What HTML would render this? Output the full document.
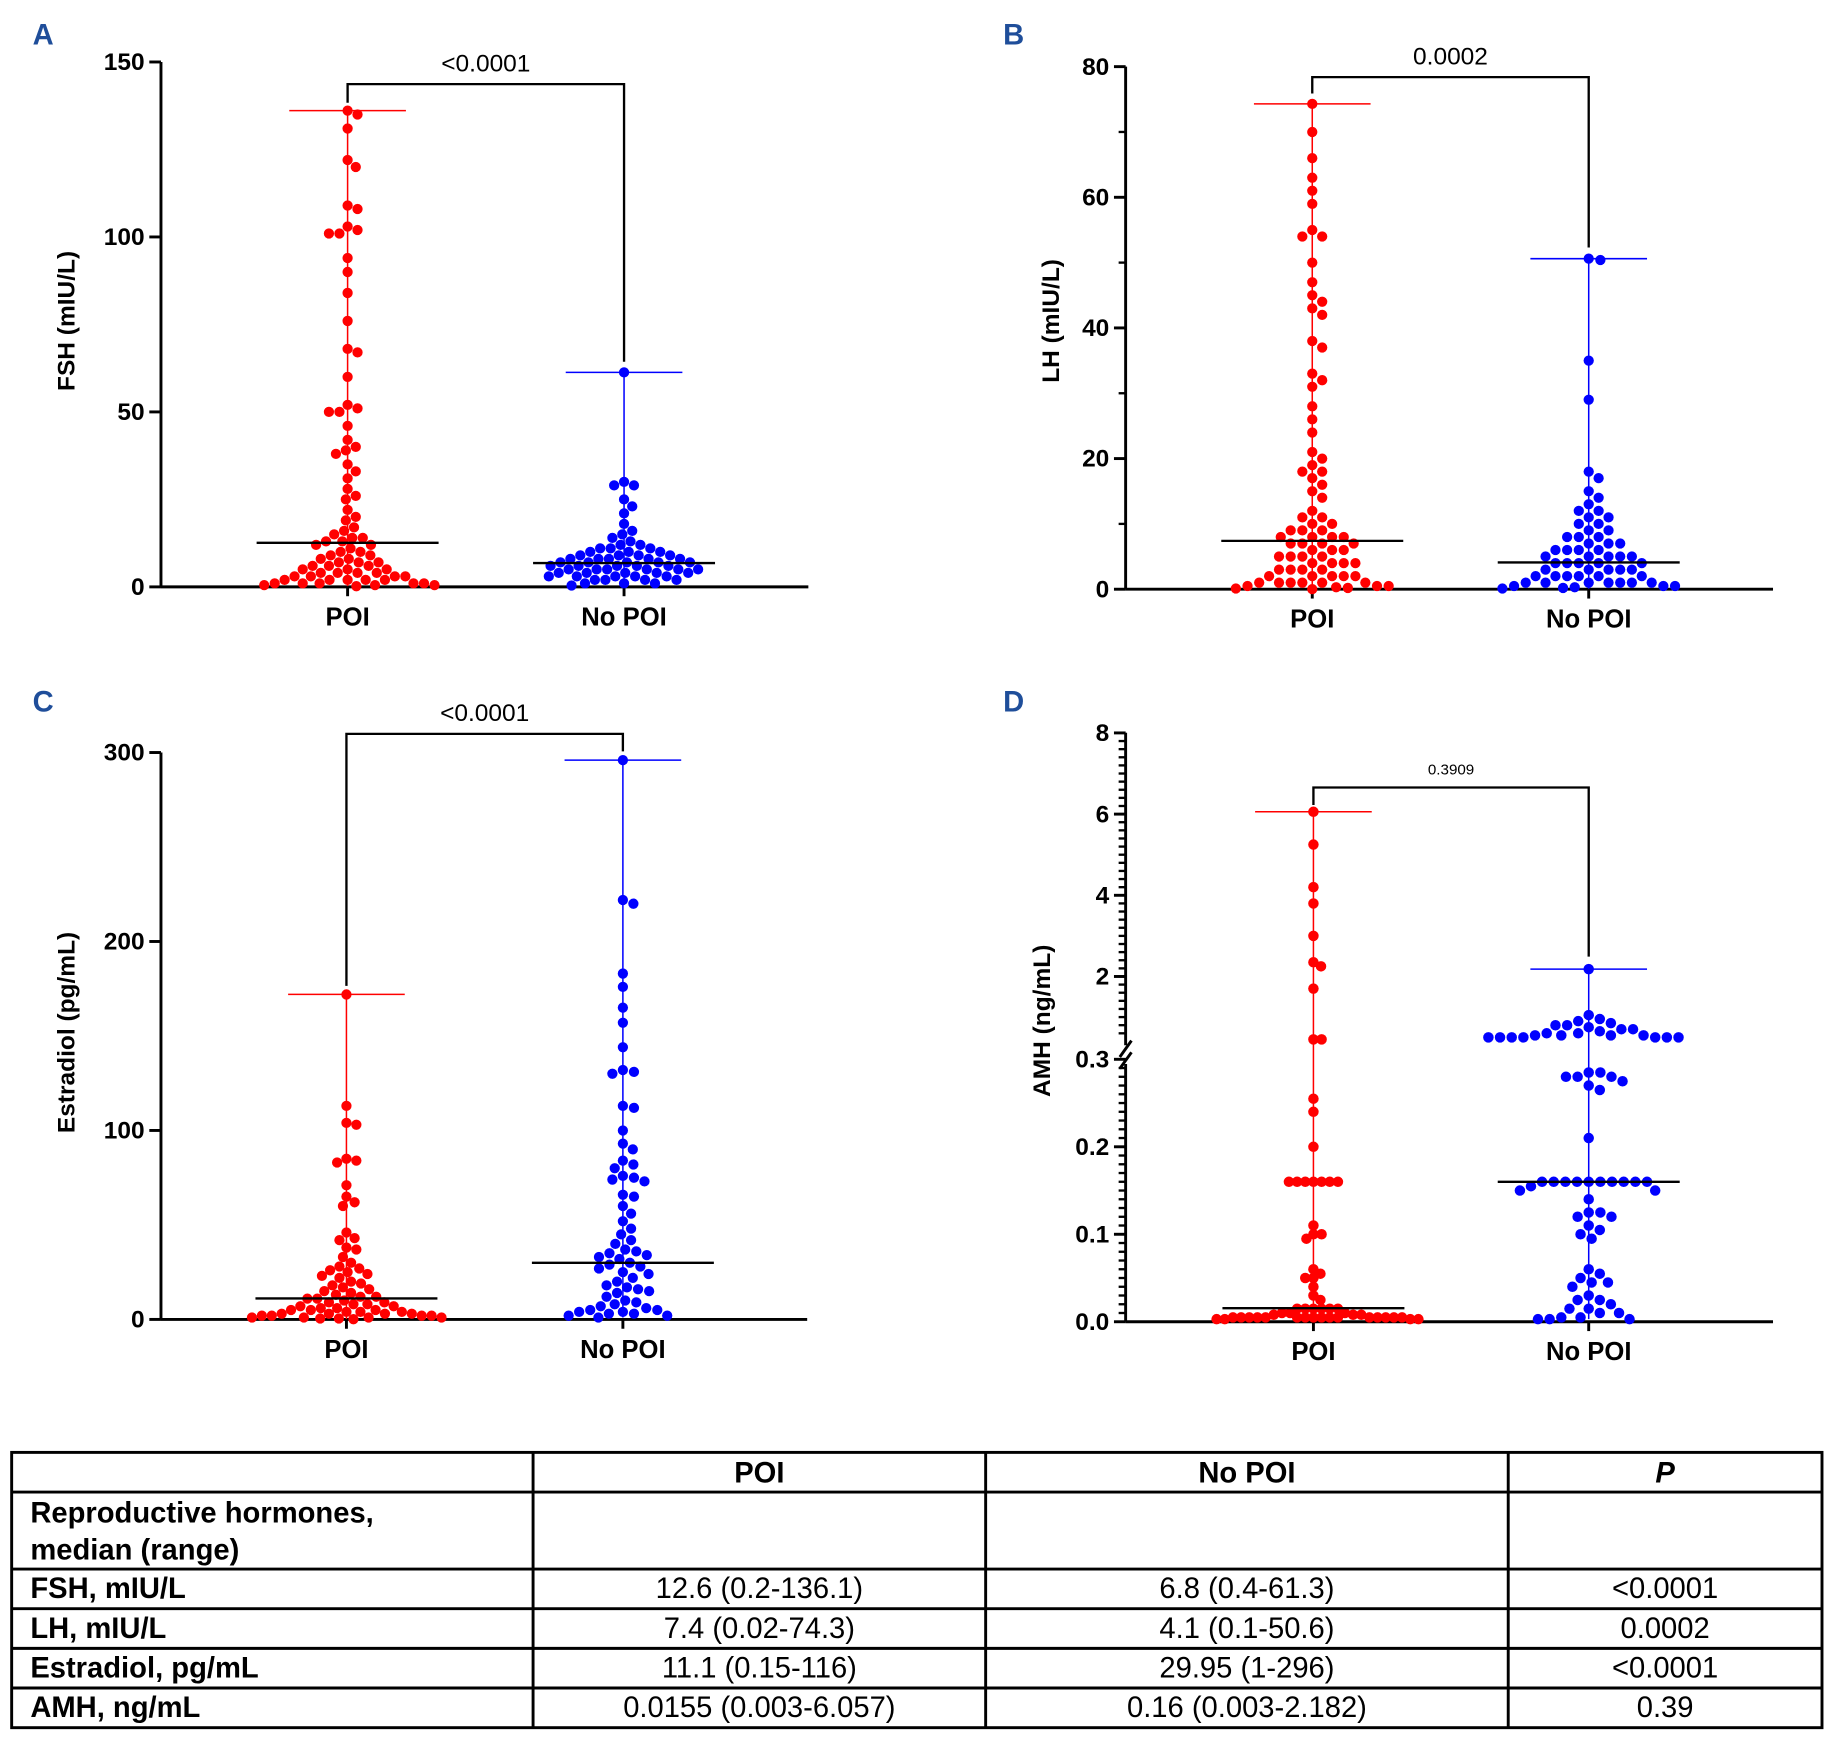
<!DOCTYPE html>
<html><head><meta charset="utf-8"><style>
html,body{margin:0;padding:0;background:#fff}
svg{display:block}
text{font-family:"Liberation Sans",Arial,sans-serif}
</style></head><body>
<svg id="fig" xmlns="http://www.w3.org/2000/svg" width="1829" height="1743" viewBox="0 0 1568 1494">
<g id="charts"></g>
<g id="table"></g>
</svg>
<script>
// ---- data ----
const categories = ["POI", "No POI"];
const fshPOI = [136.1,135,131,122,120,109,108,103,102,101,101,94,90,84,76,68,67,60,52,51,50,50,46,42,40,39,38,35,33,31,28,26,25,22,20,19,17,16,15,14,14,13,13,12,12,11,10,10,9,9,8,8,7,7,7,6,6,6,5,5,5,4,4,4,4,3,3,3,3,2,2,2,2,2,1,1,1,1,1,0.5,0.5,0.5,0.2];
const fshNoPOI = [61.3,30,29,29,25,23,21,18,16,15,14,13,12,12,11,11,11,10,10,10,9,9,9,9,8,8,8,8,8,7,7,7,7,7,6,6,6,6,6,5,5,5,5,5,5,4,4,4,4,4,3,3,3,3,3,2,2,2,2,1,1,1,0.4];
const lhPOI = [74.3,70,66,63,61,59,55,54,54,50,47,45,44,43,42,38,37,33,32,31,28,26,24,21,20,19,18,18,17,16,15,14,12,11,11,10,10,9,9,9,8,8,8,8,7,7,7,7,6,6,6,5,5,5,5,4,4,4,4,3,3,3,3,2,2,2,2,2,1,1,1,1,1,1,0.5,0.5,0.5,0.3,0.2,0.1,0.02];
const lhNoPOI = [50.6,50.4,35,29,18,17,15,14,13,12,12,11,11,10,10,9,9,8,8,8,7,7,7,6,6,6,6,5,5,5,5,5,4,4,4,4,4,3,3,3,3,3,2,2,2,2,2,2,1,1,1,1,1,1,1,0.5,0.5,0.5,0.3,0.2,0.1];
const e2POI = [172,113,104,103,85,84,83,71,65,62,60,46,43,42,38,37,33,30,28,27,26,25,24,23,22,20,19,18,17,16,15,14,13,12,12,11,11,10,9,9,8,8,7,7,6,6,5,5,5,4,4,4,3,3,3,3,2,2,2,2,1,1,1,1,0.5,0.5,0.15];
const e2NoPOI = [296,222,220,183,176,165,157,144,132,131,130,113,112,100,93,90,84,82,80,76,75,74,73,66,65,60,56,52,48,45,42,40,37,36,35,34,33,32,30,29,28,27,25,24,22,20,18,17,16,15,14,12,10,9,8,7,6,5,5,4,4,3,3,2,2,1];
const amhPOI = [6.057,5.25,4.2,3.8,3.0,2.35,2.25,1.7,0.45,0.45,0.255,0.24,0.2,0.16,0.16,0.16,0.16,0.16,0.16,0.16,0.11,0.1,0.1,0.095,0.06,0.055,0.05,0.05,0.04,0.03,0.025,0.015,0.015,0.015,0.015,0.015,0.015,0.01,0.01,0.01,0.008,0.008,0.008,0.005,0.005,0.005,0.005,0.005,0.005,0.005,0.005,0.005,0.005,0.005,0.005,0.005,0.005,0.005,0.005,0.003,0.003,0.003,0.003];
const amhNoPOI = [2.182,1.05,0.95,0.9,0.85,0.8,0.8,0.75,0.7,0.7,0.65,0.6,0.6,0.55,0.55,0.55,0.55,0.5,0.5,0.5,0.5,0.5,0.5,0.5,0.285,0.285,0.28,0.28,0.28,0.275,0.27,0.265,0.21,0.16,0.16,0.16,0.16,0.16,0.16,0.16,0.16,0.16,0.16,0.155,0.15,0.15,0.14,0.125,0.125,0.12,0.12,0.11,0.105,0.1,0.095,0.06,0.055,0.05,0.045,0.045,0.04,0.03,0.025,0.025,0.02,0.015,0.015,0.01,0.01,0.005,0.005,0.003,0.003,0.003];
const medians = {A:[12.6,6.8], B:[7.4,4.1], C:[11.1,29.95], D:[0.0155,0.16]};
const pValues = ["<0.0001","0.0002","<0.0001","0.3909"];
const tableHeader = ["", "POI", "No POI", "P"];
const tableRows = [
 ["FSH, mIU/L","12.6 (0.2-136.1)","6.8 (0.4-61.3)","<0.0001"],
 ["LH, mIU/L","7.4 (0.02-74.3)","4.1 (0.1-50.6)","0.0002"],
 ["Estradiol, pg/mL","11.1 (0.15-116)","29.95 (1-296)","<0.0001"],
 ["AMH, ng/mL","0.0155 (0.003-6.057)","0.16 (0.003-2.182)","0.39"]];

const NS="http://www.w3.org/2000/svg";
function mk(tag, attrs, parent){const e=document.createElementNS(NS,tag);for(const k in attrs)e.setAttribute(k,attrs[k]);parent.appendChild(e);return e;}
const root=document.getElementById('charts');

function swarm(vals, cx, yf, r, sep){
  const placed=[];const out=[];
  const sorted=vals.slice().sort((a,b)=>b-a);
  const minD=sep;
  for(const v of sorted){
    const y=yf(v);let best=null;
    for(let d=0; d<400; d+=0.5){
      for(const s of (d===0?[0]:[d,-d])){
        const x=cx+s;let ok=true;
        for(const p of placed){const dx=p[0]-x,dy=p[1]-y;if(dx*dx+dy*dy<minD*minD){ok=false;break;}}
        if(ok){best=x;break;}
      }
      if(best!==null)break;
    }
    placed.push([best,y]);out.push([best,y,v]);
  }
  return out;
}

function panel(o){
  const g=mk('g',{},root);
  
  
  const lt=mk('text',{x:o.lx,y:o.ly,'font-size':25,'font-weight':'bold',fill:'#1f4e9a'},g);lt.textContent=o.letter;
  
  
  const ax=mk('g',{stroke:'#000','stroke-width':2.5,fill:'none'},g);
  
  
  if(o.brk){
    mk('line',{x1:o.ax,y1:o.yTop,x2:o.ax,y2:o.brk[0]},ax);
    mk('line',{x1:o.ax,y1:o.brk[1],x2:o.ax,y2:o.y0},ax);
    mk('line',{x1:o.ax-5,y1:o.brk[0]+10,x2:o.ax+5,y2:o.brk[0]-4},ax);
    mk('line',{x1:o.ax-5,y1:o.brk[1]+4,x2:o.ax+5,y2:o.brk[1]-10},ax);
  } else mk('line',{x1:o.ax,y1:o.yTop,x2:o.ax,y2:o.y0},ax);
  mk('line',{x1:o.ax,y1:o.y0,x2:o.axEnd,y2:o.y0},ax);
  for(const t of o.minor||[]) mk('line',{x1:o.ax-6,y1:o.yf(t),x2:o.ax,y2:o.yf(t),'stroke-width':2},ax);
  for(const t of o.ticks){
    const y=o.yf(t);
    mk('line',{x1:o.ax-10,y1:y,x2:o.ax,y2:y},ax);
    const tx=mk('text',{x:o.ax-14,y:y+7,'font-size':21,'font-weight':'bold','text-anchor':'end',fill:'#000'},g);
    tx.textContent=o.fmt?o.fmt(t):String(t);
    
    
  }
  const yt=mk('text',{x:0,y:0,'font-size':21,'font-weight':'bold','text-anchor':'middle',transform:`translate(${o.titleX},${o.titleY}) rotate(-90)`},g);
  yt.textContent=o.title;
  
  
  const cols=['#ff0000','#0000ff'];
  [0,1].forEach(i=>{
    const cx=o.cx[i];const vals=o.data[i];
    mk('line',{x1:cx,y1:o.y0,x2:cx,y2:o.y0+8,stroke:'#000','stroke-width':2.5},ax);
    const cl=mk('text',{x:cx,y:o.y0+33,'font-size':22,'font-weight':'bold','text-anchor':'middle'},g);
    cl.textContent=categories[i];
    
    
    const mx=Math.max(...vals),mn=Math.min(...vals);
    const rg=mk('g',{stroke:cols[i],'stroke-width':1.3},g);
    
    
    mk('line',{x1:cx,y1:o.yf(mx),x2:cx,y2:o.yf(mn)},rg);
    mk('line',{x1:cx-50,y1:o.yf(mx),x2:cx+50,y2:o.yf(mx)},rg);
    const dg=mk('g',{fill:cols[i]},g);
    
    
    for(const p of swarm(vals,cx,o.yf,o.r,o.sep[i])){
      const c=mk('circle',{cx:p[0].toFixed(1),cy:p[1].toFixed(1),r:o.r},dg);
      
      
    }
    const md=mk('line',{x1:cx-78,y1:o.yf(o.med[i]),x2:cx+78,y2:o.yf(o.med[i]),stroke:'#000','stroke-width':2},g);
    
    
  });
  const b=mk('polyline',{points:`${o.cx[0]},${o.br[1]} ${o.cx[0]},${o.br[0]} ${o.cx[1]},${o.br[0]} ${o.cx[1]},${o.br[2]}`,fill:'none',stroke:'#000','stroke-width':2},g);
  
  
  const pt=mk('text',{x:(o.cx[0]+o.cx[1])/2,y:o.br[0]-11,'font-size':o.pSize||21,'text-anchor':'middle'},g);
  pt.textContent=o.p;
  
  
}

panel({letter:'A',lx:28,ly:38,ax:138,axEnd:693,y0:503,yTop:53,yf:v=>503-v*3,ticks:[0,50,100,150],
  title:'FSH (mIU/L)',titleX:64,titleY:275,cx:[298,535],data:[fshPOI,fshNoPOI],med:medians.A,r:4.4,sep:[9,9],
  br:[72,88,310],p:pValues[0]});
panel({letter:'B',lx:860,ly:38,ax:965,axEnd:1520,y0:505,yTop:57,yf:v=>505-v*5.6,ticks:[0,20,40,60,80],minor:[10,30,50,70],
  title:'LH (mIU/L)',titleX:908,titleY:275,cx:[1125,1362],data:[lhPOI,lhNoPOI],med:medians.B,r:4.4,sep:[10,10],
  br:[66,80,212],p:pValues[1]});
panel({letter:'C',lx:28,ly:610,ax:138,axEnd:692,y0:1131,yTop:645,yf:v=>1131-v*1.62,ticks:[0,100,200,300],
  title:'Estradiol (pg/mL)',titleX:64,titleY:885,cx:[297,534],data:[e2POI,e2NoPOI],med:medians.C,r:4.4,sep:[8.5,9.5],
  br:[629,845,644],p:pValues[2]});
const dMinor=[];for(let v=0.01;v<0.3;v+=0.01)dMinor.push(+v.toFixed(2));for(let v=0.6;v<8;v+=0.2)dMinor.push(+v.toFixed(1));
panel({letter:'D',lx:860,ly:610,ax:965,axEnd:1520,y0:1133,yTop:628,brk:[896,912],
  yf:v=>v<=0.3?1133-v*750:837-(v-2)*34.8,ticks:[0,0.1,0.2,0.3,2,4,6,8],minor:dMinor,
  fmt:t=>t<1?t.toFixed(1):String(t),
  title:'AMH (ng/mL)',titleX:900,titleY:875,cx:[1126,1362],data:[amhPOI,amhNoPOI],med:medians.D,r:4.5,sep:[7,10],
  br:[675,690,820],p:pValues[3],pSize:13});

// table
const tg=document.getElementById('table');
const colX=[10,457,845,1293,1562];
const rowY=[1245,1279,1345,1379,1413,1447,1481];
mk('rect',{x:10,y:1245,width:1552,height:236,fill:'none',stroke:'#000','stroke-width':2.5},tg);
for(const x of colX.slice(1,4)) mk('line',{x1:x,y1:1245,x2:x,y2:1481,stroke:'#000','stroke-width':2.5},tg);
for(const y of rowY.slice(1,6)) mk('line',{x1:10,y1:y,x2:1562,y2:y,stroke:'#000','stroke-width':2.5},tg);
function cell(txt,col,y,opts){
  const cx=col===0?26:(colX[col]+colX[col+1])/2;
  const t=mk('text',Object.assign({x:cx,y:y,'font-size':25,'text-anchor':col===0?'start':'middle'},opts||{}),tg);
  t.textContent=txt;
  
  
}
cell(tableHeader[1],1,1271,{'font-weight':'bold'});
cell(tableHeader[2],2,1271,{'font-weight':'bold'});
cell(tableHeader[3],3,1271,{'font-weight':'bold','font-style':'italic'});
cell('Reproductive hormones,',0,1305,{'font-weight':'bold'});
cell('median (range)',0,1337,{'font-weight':'bold'});
tableRows.forEach((r,i)=>{
  const y=rowY[i+2]+25;
  cell(r[0],0,y,{'font-weight':'bold'});
  cell(r[1],1,y);cell(r[2],2,y);cell(r[3],3,y);
});
</script>
</body></html>
